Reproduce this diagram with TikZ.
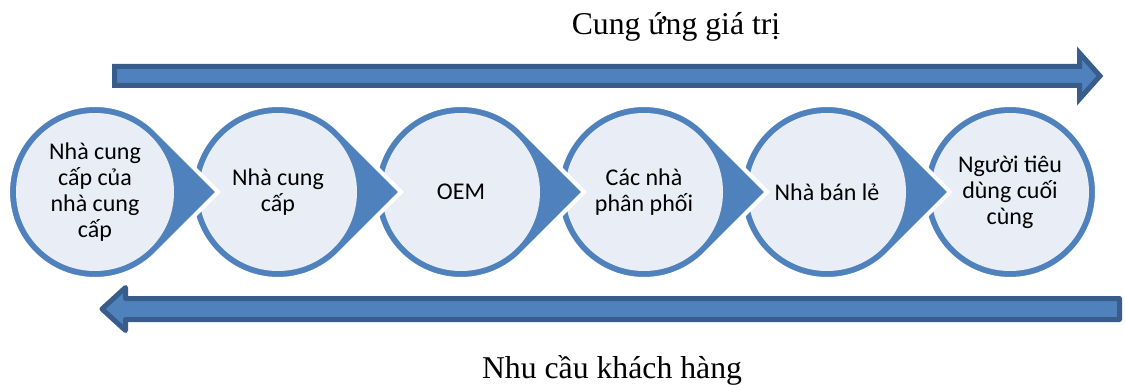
\documentclass[tikz,border=0pt]{standalone}
\usepackage{fontspec}
\setmainfont{Liberation Serif}
\newfontfamily\calibri{Carlito}
\usetikzlibrary{calc}
\definecolor{ringblue}{HTML}{4F81BD}
\definecolor{darkblue}{HTML}{385D8A}
\definecolor{paleblue}{HTML}{E9EEF6}
\tikzset{
  step label/.style={align=center,font=\calibri\fontsize{18}{19.6}\selectfont},
  caption/.style={anchor=base,font=\fontsize{23.8}{28}\selectfont},
  band/.style={fill=ringblue,draw=darkblue,line width=3.75pt},
  drop/.style={fill=ringblue,draw=white,line width=3pt}
}
\begin{document}
\begin{tikzpicture}[x=0.75pt,y=-0.75pt]
  \useasboundingbox (0,0) rectangle (1125,385);
  \fill[white] (0,0) rectangle (1125,385);
  \node[caption] (value) at (676,35) {Cung ứng giá trị};
  \node[caption] (demand) at (612,378) {Nhu cầu khách hàng};
  \draw[band,line join=miter] (114.5,66.5) -- (1079.5,66.5) -- (1079.5,53)
    -- (1100,76) -- (1079.5,99) -- (1079.5,85.5) -- (114.5,85.5) -- cycle;
  \draw[band,line join=round] (1119.5,298.5) -- (125.5,298.5) -- (125.5,287.5)
    -- (102,309) -- (125.5,330.5) -- (125.5,319.5) -- (1119.5,319.5) -- cycle;
  \path[drop] (1010,192) circle[radius=87];
  \fill[paleblue] (1010,192) circle[radius=79];
  \foreach \cx in {827,644,461,278,95} {
    \path[drop] (\cx+123,192) -- ($(\cx,192)+(45:87)$)
      arc[start angle=45,end angle=315,radius=87] -- cycle;
    \fill[paleblue] (\cx,192) circle[radius=79];
  }
  \node[step label] (supsup) at (95,192) {Nhà cung\\cấp của\\nhà cung\\cấp};
  \node[step label] (supplier) at (278,192) {Nhà cung\\cấp};
  \node[step label] (oem) at (461,192) {OEM};
  \node[step label] (distrib) at (644,192) {Các nhà\\phân phối};
  \node[step label] (retail) at (827,192) {Nhà bán lẻ};
  \node[step label] (consumer) at (1010,192) {Người tiêu\\dùng cuối\\cùng};
\end{tikzpicture}
\end{document}
